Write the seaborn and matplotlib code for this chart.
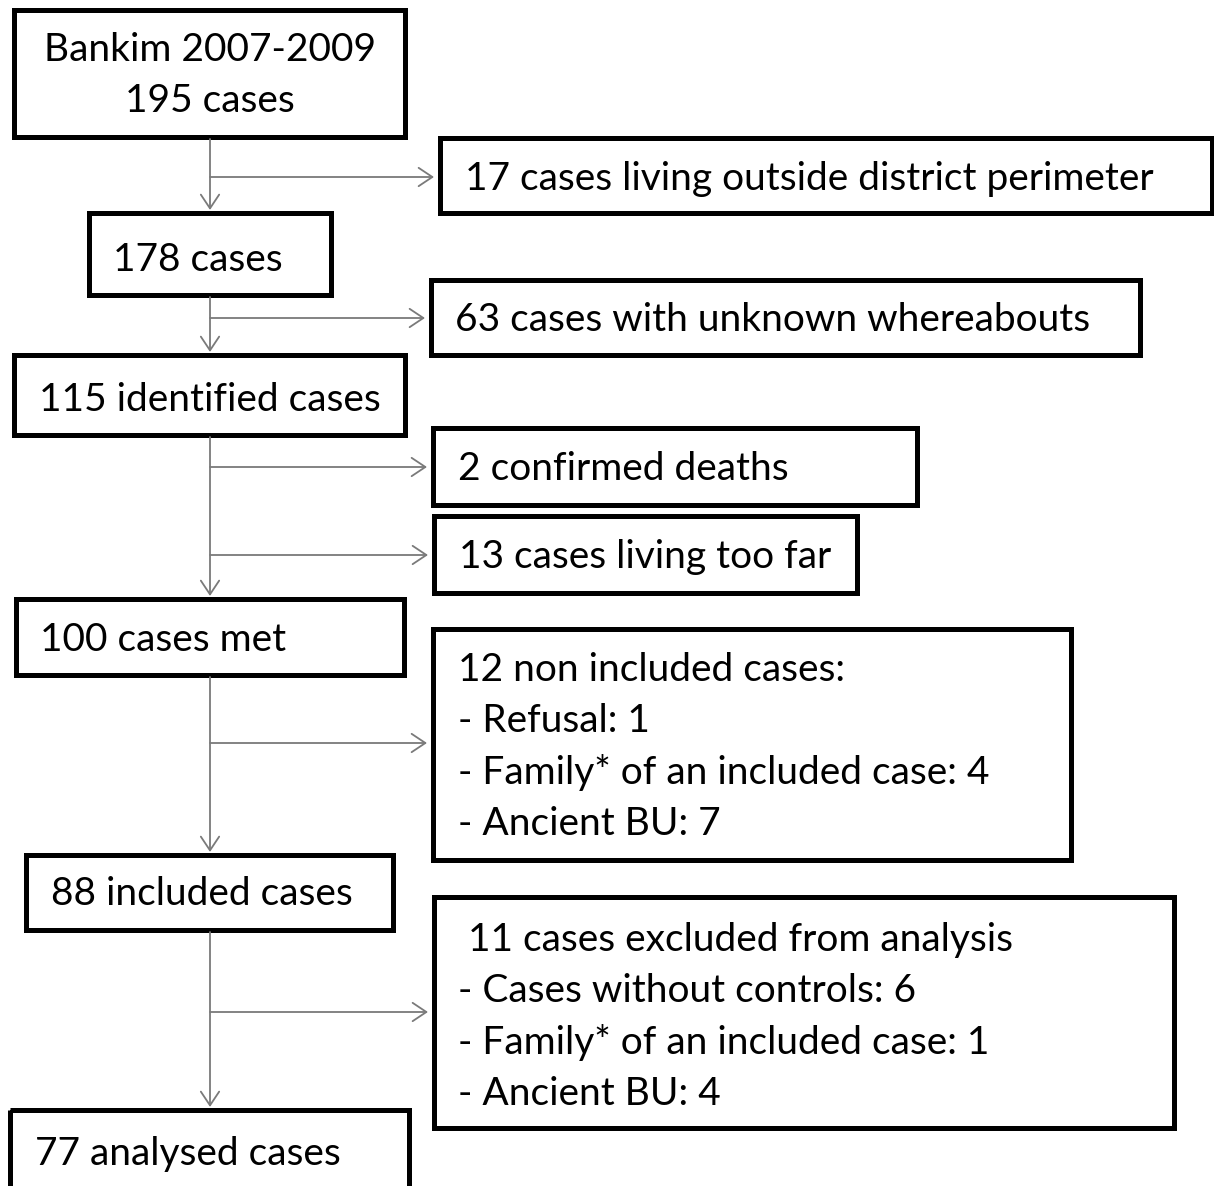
import matplotlib
matplotlib.use("Agg")
import seaborn as sns
from matplotlib import pyplot as plt
from matplotlib.patches import Rectangle

sns.set_theme(style="white")
plt.rcParams["font.family"] = ["Lato", "DejaVu Sans"]

# flow data: main stream of cases and the exclusions at each step
main_labels = [
    ["Bankim 2007-2009", "195 cases"],
    ["178 cases"],
    ["115 identified cases"],
    ["100 cases met"],
    ["88 included cases"],
    ["77 analysed cases"],
]
side_labels = [
    ["17 cases living outside district perimeter"],
    ["63 cases with unknown whereabouts"],
    ["2 confirmed deaths"],
    ["13 cases living too far"],
    ["12 non included cases:", "- Refusal: 1", "- Family* of an included case: 4",
     "- Ancient BU: 7"],
    [" 11 cases excluded from analysis", "- Cases without controls: 6",
     "- Family* of an included case: 1", "- Ancient BU: 4"],
]

# layout in pixel coordinates (x0, y0, x1, y1), text left x, first baseline
main_boxes = [(14, 10, 405, 137), (89, 213, 331, 295), (14, 355, 405, 435),
              (16, 599, 404, 675), (26, 855, 393, 930), (10, 1110, 409, 1200)]
main_text_x = [None, 113, 39, 40, 51, 35]
main_baseline = [61, 271, 411, 651, 905, 1165]
side_boxes = [(440, 138, 1212, 213), (431, 280, 1140, 355), (433, 428, 917, 505),
              (434, 516, 857, 593), (433, 629, 1071, 860), (434, 897, 1174, 1128)]
side_text_x = [465, 455, 458, 459, 458, 458]
side_baseline = [190, 331, 480, 568, 681, 951]
side_arrow_y = [177, 318, 467, 555, 743, 1012]

TRUNK_X = 210
LINE_GAP = 51.3
FONT_SIZE = 28
BOX_LW = 3.6
ARROW_COLOR = "#7a7a7a"

fig = plt.figure(figsize=(12.14, 11.86), dpi=100)
ax = fig.add_axes([0, 0, 1, 1])
ax.set_xlim(0, 1214)
ax.set_ylim(1186, 0)
ax.axis("off")


def draw_box(rect):
    x0, y0, x1, y1 = rect
    ax.add_patch(Rectangle((x0, y0), x1 - x0, y1 - y0, fill=False,
                           edgecolor="black", lw=BOX_LW, joinstyle="miter"))


def arrow(start, end):
    ax.annotate("", xy=end, xytext=start,
                arrowprops=dict(arrowstyle="->,head_length=0.45,head_width=0.3",
                                color=ARROW_COLOR, lw=1.3, shrinkA=0, shrinkB=0,
                                mutation_scale=22))


# main boxes
for i, (lines, rect) in enumerate(zip(main_labels, main_boxes)):
    draw_box(rect)
    for j, line in enumerate(lines):
        if main_text_x[i] is None:
            ax.text((rect[0] + rect[2]) / 2, main_baseline[i] + j * LINE_GAP, line,
                    ha="center", va="baseline", fontsize=FONT_SIZE, color="black")
        else:
            ax.text(main_text_x[i], main_baseline[i] + j * LINE_GAP, line,
                    ha="left", va="baseline", fontsize=FONT_SIZE, color="black")

# side boxes
for i, (lines, rect) in enumerate(zip(side_labels, side_boxes)):
    draw_box(rect)
    for j, line in enumerate(lines):
        ax.text(side_text_x[i], side_baseline[i] + j * LINE_GAP, line,
                ha="left", va="baseline", fontsize=FONT_SIZE, color="black")

# vertical arrows between main boxes
for a, b in zip(main_boxes[:-1], main_boxes[1:]):
    arrow((TRUNK_X, a[3] + 2), (TRUNK_X, b[1] - 3))

# horizontal arrows to the exclusion boxes
for i, rect in enumerate(side_boxes):
    arrow((TRUNK_X, side_arrow_y[i]), (rect[0] - 6, side_arrow_y[i]))

plt.savefig("out.png", dpi=100)
plt.close()
